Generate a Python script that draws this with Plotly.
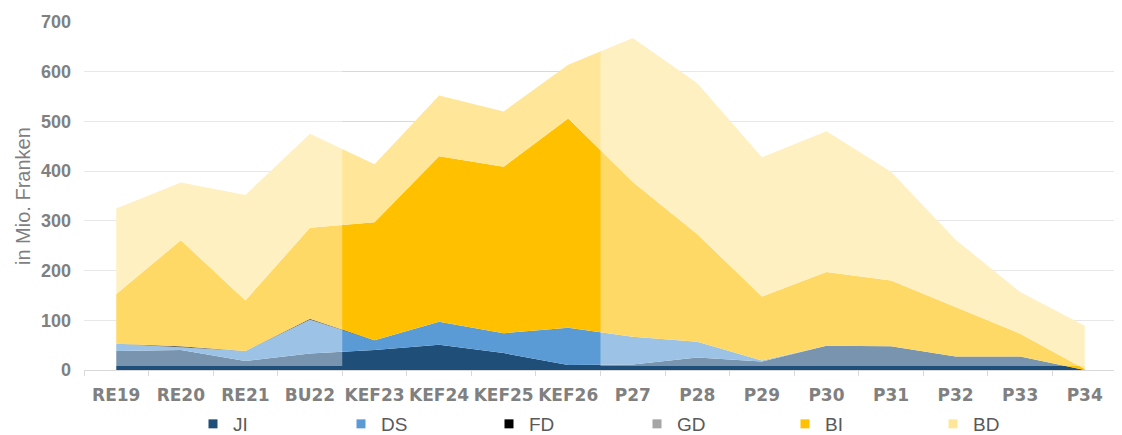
import plotly.graph_objects as go

categories = ["RE19", "RE20", "RE21", "BU22", "KEF23", "KEF24", "KEF25", "KEF26",
              "P27", "P28", "P29", "P30", "P31", "P32", "P33", "P34"]

JI = [38, 40, 18, 33, 40, 51, 34, 10, 11, 25, 17, 49, 48, 27, 27, 0]
DS = [15, 6, 20, 68, 20, 46, 40, 75, 56, 32, 2, 0, 0, 0, 0, 0]
FD = [0, 2, 0, 2, 0, 0, 0, 0, 0, 0, 0, 0, 0, 0, 0, 0]
GD = [0, 0, 0, 0, 0, 0, 0, 0, 0, 0, 0, 0, 0, 0, 0, 0]
BI = [100, 213, 102, 183, 237, 333, 335, 421, 311, 216, 129, 148, 132, 100, 46, 2]
BD = [172, 116, 212, 189, 117, 122, 111, 108, 290, 304, 280, 283, 219, 135, 84, 87]

series = [
    ("JI", JI, "#1F4E79"),
    ("DS", DS, "#5B9BD5"),
    ("FD", FD, "#000000"),
    ("GD", GD, "#A5A5A5"),
    ("BI", BI, "#FFC000"),
    ("BD", BD, "#FFE699"),
]

# page has an 8px body margin, so the figure is sized to fit the 1122x435 window
W, H = 1114, 427
L, R, T, B = 76, 5, 14, 65
PW, PH = W - L - R, H - T - B

fig = go.Figure()
for name, vals, col in series:
    fig.add_trace(go.Scatter(
        x=categories, y=vals, name=name, mode="lines",
        stackgroup="one", line=dict(width=0, color=col),
        fillcolor=col, showlegend=False, hoverinfo="x+y+name",
    ))

# legend entries (small square markers)
for name, vals, col in series:
    fig.add_trace(go.Scatter(
        x=[None], y=[None], name=name, mode="markers",
        marker=dict(symbol="square", size=9, color=col),
        showlegend=True,
    ))

# white veil over the historical and planning periods (middle period stays saturated)
for x0, x1 in [(-0.5, 3.5), (7.5, 15.5)]:
    fig.add_shape(type="rect", xref="x", yref="y", x0=x0, x1=x1, y0=8, y1=700,
                  fillcolor="white", opacity=0.4, line=dict(width=0), layer="above")

fig.add_annotation(
    text="in Mio. Franken", textangle=-90, xref="paper", yref="paper",
    x=(15 - L) / PW, y=0.5, xanchor="center", yanchor="middle",
    showarrow=False, font=dict(family="Liberation Sans", size=20, color="#7F7F7F"),
)

fig.update_layout(
    width=W, height=H,
    margin=dict(l=L, r=R, t=T, b=B, autoexpand=False),
    paper_bgcolor="white", plot_bgcolor="white",
    legend=dict(orientation="h", traceorder="normal",
                x=(185 - L) / PW, xanchor="left",
                y=-(416 - (H - B)) / PH, yanchor="middle",
                entrywidth=103, entrywidthmode="pixels",
                font=dict(family="Liberation Sans", size=19, color="#595959"),
                bgcolor="rgba(0,0,0,0)"),
    xaxis=dict(
        type="category", range=[-0.5, 15.5], tickson="boundaries",
        ticks="outside", ticklen=5, tickcolor="#D9D9D9", automargin=False,
        showline=True, linecolor="#D9D9D9", linewidth=1,
        showgrid=False, ticklabelstandoff=10, tickangle=0,
        tickfont=dict(family="DejaVu Sans", size=17, color="#808080", weight="bold"),
    ),
    yaxis=dict(
        range=[0, 700], dtick=100, showgrid=True, gridcolor="#D9D9D9", gridwidth=1,
        zeroline=False, showline=False, ticks="", ticklabelstandoff=12, automargin=False,
        tickfont=dict(family="Liberation Sans", size=18, color="#808080", weight="bold"),
    ),
)

fig.write_html("out.html")
